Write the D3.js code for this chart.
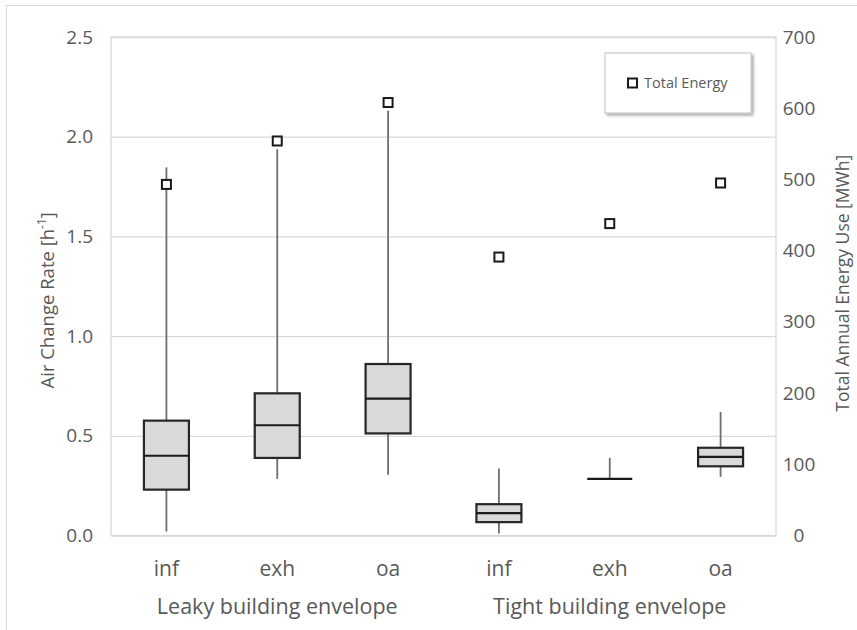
<!DOCTYPE html>
<html>
<head>
<meta charset="utf-8">
<script src="https://cdn.jsdelivr.net/npm/d3@7"></script>
<style>
  body { margin: 0; background: #fff; }
  text { font-family: "Open Sans", "Noto Sans", sans-serif; fill: #595959; }
</style>
</head>
<body>
<div id="chart"></div>
<script>
// box plot values (air change rate, h-1)
const categories = ['inf', 'exh', 'oa', 'inf', 'exh', 'oa'];
const groups = ['Leaky building envelope', 'Tight building envelope'];
const whiskerLow = [0.02, 0.284, 0.305, 0.01, 0.284, 0.294];
const q1 = [0.23, 0.389, 0.512, 0.067, 0.284, 0.347];
const median = [0.40, 0.553, 0.686, 0.112, 0.284, 0.394];
const q3 = [0.576, 0.713, 0.86, 0.157, 0.284, 0.44];
const whiskerHigh = [1.846, 1.937, 2.13, 0.336, 0.389, 0.62];
// total annual energy use, MWh
const energy = [493, 554, 608, 391, 438, 495];

const leftTicks = [0, 0.5, 1.0, 1.5, 2.0, 2.5];
const rightTicks = [0, 100, 200, 300, 400, 500, 600, 700];

const width = 857;
const height = 630;
const plot = { left: 111, right: 776, top: 37, bottom: 535.5 };

const svg = d3.select('#chart').append('svg')
  .attr('width', width)
  .attr('height', height);

// outer chart border
svg.append('rect')
  .attr('x', 6.5).attr('y', 5.5)
  .attr('width', width).attr('height', height)
  .attr('fill', 'none')
  .attr('stroke', '#d9d9d9');

const ids = d3.range(categories.length);

const xScale = d3.scaleBand()
  .domain(ids)
  .range([plot.left, plot.right]);

const yScale = d3.scaleLinear()
  .domain([0, 2.5])
  .range([plot.bottom, plot.top]);

const y2Scale = d3.scaleLinear()
  .domain([0, 700])
  .range([plot.bottom, plot.top]);

// gridlines
const grid = svg.append('g')
  .attr('transform', `translate(${plot.left},0)`)
  .call(d3.axisLeft(yScale).tickValues(leftTicks).tickSize(-(plot.right - plot.left)).tickFormat(''));
grid.select('.domain').remove();
grid.selectAll('line').attr('stroke', '#d9d9d9').attr('stroke-width', 1.3);

// plot frame
svg.append('rect')
  .attr('x', plot.left).attr('y', plot.top)
  .attr('width', plot.right - plot.left)
  .attr('height', plot.bottom - plot.top)
  .attr('fill', 'none')
  .attr('stroke', '#d9d9d9')
  .attr('stroke-width', 1.3);

// left axis labels
const yAxis = svg.append('g')
  .attr('transform', `translate(${plot.left},0)`)
  .call(d3.axisLeft(yScale).tickValues(leftTicks).tickSize(0).tickPadding(18).tickFormat(d3.format('.1f')));
yAxis.select('.domain').remove();
yAxis.selectAll('text')
  .attr('font-size', 19)
  .attr('font-family', '"Open Sans", sans-serif')
  .attr('fill', '#595959');

// right axis labels
const y2Axis = svg.append('g')
  .attr('transform', `translate(${plot.right},0)`)
  .call(d3.axisRight(y2Scale).tickValues(rightTicks).tickSize(0).tickPadding(23).tickFormat(d3.format('d')));
y2Axis.select('.domain').remove();
y2Axis.selectAll('text')
  .attr('font-size', 19)
  .attr('font-family', '"Open Sans", sans-serif')
  .attr('fill', '#595959')
  .attr('text-anchor', 'middle');

// category labels
svg.append('g').selectAll('text')
  .data(ids)
  .enter().append('text')
  .attr('x', d => xScale(d) + xScale.bandwidth() / 2)
  .attr('y', 576)
  .attr('text-anchor', 'middle')
  .attr('font-size', 21)
  .text(d => categories[d]);

// group labels
svg.append('g').selectAll('text')
  .data(groups)
  .enter().append('text')
  .attr('x', (d, i) => xScale(i * 3 + 1) + xScale.bandwidth() / 2)
  .attr('y', 614)
  .attr('text-anchor', 'middle')
  .attr('font-size', 21.5)
  .text(d => d);

// axis titles
const leftTitle = svg.append('text')
  .attr('transform', `translate(54,${(plot.top + plot.bottom) / 2 + 14}) rotate(-90)`)
  .attr('text-anchor', 'middle')
  .attr('font-size', 18.5);
leftTitle.append('tspan').text('Air Change Rate [h');
leftTitle.append('tspan').attr('baseline-shift', 'super').attr('font-size', 12).text('-1');
leftTitle.append('tspan').text(']');

svg.append('text')
  .attr('transform', `translate(849,${(plot.top + plot.bottom) / 2 - 3}) rotate(-90)`)
  .attr('text-anchor', 'middle')
  .attr('font-size', 17.5)
  .text('Total Annual Energy Use [MWh]');

// boxes
const boxWidth = 45;
const box = svg.append('g').selectAll('g')
  .data(ids)
  .enter().append('g')
  .attr('transform', d => `translate(${xScale(d) + xScale.bandwidth() / 2},0)`);

box.append('line')
  .attr('y1', d => yScale(q3[d]))
  .attr('y2', d => yScale(whiskerHigh[d]))
  .attr('stroke', '#6f6f6f')
  .attr('stroke-width', 1.8);

box.append('line')
  .attr('y1', d => yScale(q1[d]))
  .attr('y2', d => yScale(whiskerLow[d]))
  .attr('stroke', '#6f6f6f')
  .attr('stroke-width', 1.8);

box.append('rect')
  .attr('x', -boxWidth / 2)
  .attr('width', boxWidth)
  .attr('y', d => yScale(q3[d]))
  .attr('height', d => yScale(q1[d]) - yScale(q3[d]))
  .attr('fill', '#d9d9d9')
  .attr('stroke', '#262626')
  .attr('stroke-width', 2.2);

box.append('line')
  .attr('x1', -boxWidth / 2)
  .attr('x2', boxWidth / 2)
  .attr('y1', d => yScale(median[d]))
  .attr('y2', d => yScale(median[d]))
  .attr('stroke', '#1a1a1a')
  .attr('stroke-width', 2.2);

// energy markers
box.append('rect')
  .attr('x', -4.5)
  .attr('y', d => y2Scale(energy[d]) - 4.5)
  .attr('width', 9)
  .attr('height', 9)
  .attr('fill', '#fff')
  .attr('stroke', '#1a1a1a')
  .attr('stroke-width', 2);

// legend
const defs = svg.append('defs');
const shadow = defs.append('filter').attr('id', 'shadow')
  .attr('x', '-10%').attr('y', '-10%').attr('width', '130%').attr('height', '140%');
shadow.append('feDropShadow')
  .attr('dx', 2).attr('dy', 2).attr('stdDeviation', 1.5)
  .attr('flood-color', '#000').attr('flood-opacity', 0.35);

const legend = svg.append('g').attr('transform', 'translate(605,53)');
legend.append('rect')
  .attr('width', 146).attr('height', 60)
  .attr('fill', '#fff')
  .attr('stroke', '#bfbfbf')
  .attr('filter', 'url(#shadow)');
legend.append('rect')
  .attr('x', 23).attr('y', 25.5)
  .attr('width', 9).attr('height', 9)
  .attr('fill', '#fff')
  .attr('stroke', '#1a1a1a')
  .attr('stroke-width', 2);
legend.append('text')
  .attr('x', 39).attr('y', 35)
  .attr('font-size', 14.5)
  .text('Total Energy');
</script>
</body>
</html>
